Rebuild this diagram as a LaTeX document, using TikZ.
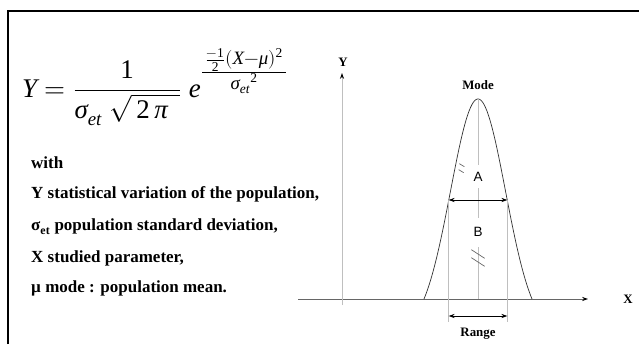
\documentclass[tikz,border=0pt]{standalone}
\usepackage{amsmath}
\usepackage{fontspec}
\usepackage{unicode-math}
\setmainfont{Liberation Serif}
\setmathfont{Latin Modern Math}
\setmathfont{Liberation Serif Italic}[range={it->up}]
\setmathfont{Liberation Serif}[range={up/num}]
\newfontfamily\arialfont{Liberation Sans}
\usetikzlibrary{arrows.meta,calc}

\begin{document}
\begin{tikzpicture}[>={Stealth[length=5pt,width=3.5pt]},
    txt/.style={anchor=base west, font=\fontsize{14.5}{17}\selectfont\bfseries, inner sep=0pt},
    lbl/.style={font=\fontsize{11}{13}\selectfont\bfseries, inner sep=1pt},
    zone/.style={font=\arialfont\fontsize{11.5}{13}\selectfont, inner sep=0pt},
    guide/.style={black!25, line width=0.8pt},
    curve/.style={black!80, line width=0.6pt}]
    \useasboundingbox (0,0) rectangle (19.17,10.32);

    % Frame (top and left border only)
    \draw[line width=1.6pt] (0.24,0) -- (0.24,9.99) -- (19.17,9.99);

    % Formula
    \node[anchor=base west, inner sep=0pt, font=\fontsize{23}{28}\selectfont] (formula) at (0.66,7.41)
        {$Y=\dfrac{1}{\sigma_{et}\;\sqrt{\,2\,\pi\;\,}}\;e^{\frac{\scriptstyle\,\frac{-1}{2}(X-\mu)^{2}\,}{\scriptstyle\sigma_{et}{}^{2}}}$};

    % Legend
    \node[txt] (with) at (0.93,5.28) {with};
    \node[txt] (vary) at (0.93,4.38) {Y statistical variation of the population,};
    \node[txt] (sdev) at (0.93,3.42) {σ\textsubscript{et} population standard deviation,};
    \node[txt] (param) at (0.93,2.46) {X studied parameter,};
    \node[txt] (mean) at (0.93,1.56) {µ mode : population mean.};

    % Axes
    \coordinate (x0) at (8.94,1.35);
    \coordinate (x1) at (17.64,1.35);
    \coordinate (y0) at (10.26,1.17);
    \coordinate (y1) at (10.26,8.13);
    \draw[black!60, line width=0.8pt, arrows={-Stealth[black,length=5pt,width=3.5pt]}] (x0) -- (x1);
    \draw[guide, arrows={-Stealth[black,length=5pt,width=3.5pt]}] (y0) -- (y1);
    \node[lbl] (lblX) at (18.84,1.35) {X};
    \node[lbl] (lblY) at (10.29,8.46) {Y};

    % Truncated bell curve
    \draw[curve] plot[domain=-1.62:1.62, samples=80, smooth]
        ({14.34+\x},{1.35+7.0216*(exp(-\x*\x/1.3613)-0.1455)});

    % Mode line with the two zones
    \coordinate (peak) at (14.34,7.35);
    \coordinate (base) at (14.34,1.35);
    \node[lbl] (mode) at (14.34,7.77) {Mode};
    \node[zone, minimum height=0.69cm] (zA) at (14.34,5.02) {A};
    \node[zone, minimum height=0.87cm] (zB) at (14.34,3.35) {B};
    \draw[guide] (peak) -- (zA.north);
    \draw[guide] (zA.south) -- (zB.north);
    \draw[guide] (zB.south) -- (base);

    % Half-height width and range
    \coordinate (hl) at (13.46,4.32);
    \coordinate (hr) at (15.22,4.32);
    \coordinate (rl) at (13.46,0.66);
    \coordinate (rr) at (15.22,0.66);
    \draw[guide] (hl) -- (rl);
    \draw[guide] (hr) -- (rr);
    \draw[<->, line width=0.6pt] (hl) -- (hr);
    \draw[<->, line width=0.6pt] ($(rl)+(0,0.18)$) -- ($(rr)+(0,0.18)$);
    \node[lbl] (range) at (14.34,0.30) {Range};

    % Break marks
    \coordinate (cutA) at (13.86,5.27);
    \coordinate (cutB) at (14.34,2.58);
    \draw[black!60, line width=0.6pt] ($(cutA)+(-0.08,0.14)$) -- ++(0.15,-0.09)
        ($(cutA)+(-0.10,-0.04)$) -- ++(0.15,-0.09);
    \draw[black!60, line width=0.6pt] ($(cutB)+(-0.2,0.25)$) -- ++(0.4,-0.26)
        ($(cutB)+(-0.2,0.01)$) -- ++(0.4,-0.26);
\end{tikzpicture}
\end{document}
